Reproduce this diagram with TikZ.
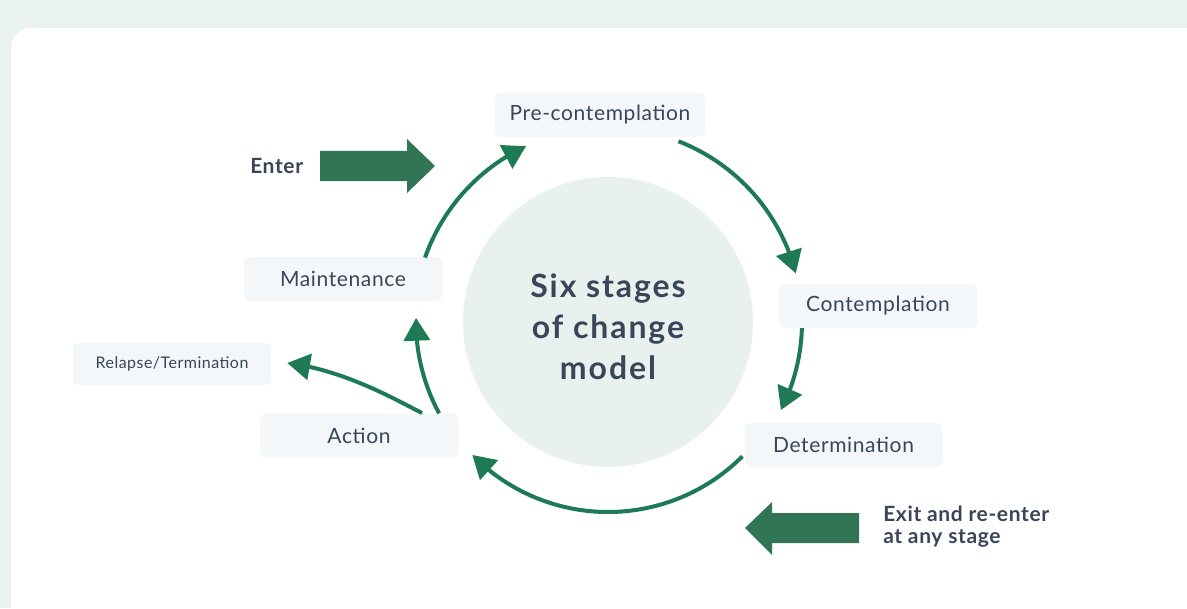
\documentclass[tikz,border=0pt]{standalone}
\usepackage{fontspec}
\setmainfont{Lato}[LetterSpace=3]
\newfontfamily\titlefont{Lato}[LetterSpace=6]
\usetikzlibrary{arrows.meta,bending,calc}

\definecolor{pagebg}{HTML}{E9F2EF}
\definecolor{boxfill}{HTML}{F3F7FA}
\definecolor{hubfill}{HTML}{E9F1EE}
\definecolor{ink}{HTML}{394659}
\definecolor{flowgreen}{HTML}{1E7A55}
\definecolor{blockgreen}{HTML}{327556}

\tikzset{
  stage/.style={fill=boxfill, rounded corners=4pt, minimum width=148.5pt,
    minimum height=33pt, inner sep=0pt, text=ink,
    font=\fontsize{15.75pt}{18pt}\selectfont},
  smallstage/.style={stage, font=\fontsize{12pt}{14pt}\selectfont, minimum height=31.5pt},
  flow/.style={draw=flowgreen, line width=3pt,
    -{Triangle[length=17pt,width=19.5pt]}},
  blockarrow/.style={fill=blockgreen},
  caption/.style={text=ink, inner sep=0pt,
    font=\fontsize{15.75pt}{16.5pt}\selectfont\bfseries}
}

\begin{document}
\begin{tikzpicture}[x=0.75pt,y=0.75pt]
  % page and card
  \useasboundingbox (0,0) rectangle (1187,608);
  \fill[pagebg] (0,0) rectangle (1187,608);
  \fill[white, rounded corners=15pt] (11,-20) rectangle (1220,580);

  % central hub
  \node[circle, fill=hubfill, minimum size=217.5pt, inner sep=0pt] (hub) at (608,286) {};
  \node[text=ink, align=center, inner sep=0pt,
        font=\fontsize{24pt}{30.75pt}\titlefont\bfseries] (title) at (608,281)
        {Six stages\\of change\\model};

  % stages
  \node[stage, minimum width=157.5pt] (pre)   at (600,493)   {Pre-contemplation};
  \node[stage] (cont)  at (878,302)   {Contemplation};
  \node[stage] (det)   at (843.5,163) {Determination};
  \node[stage] (act)   at (359,172.5) {Action};
  \node[stage] (maint) at (343,329)   {Maintenance};
  \node[smallstage] (relapse) at (172,244) {Relapse/Termination};

  % points on the ring around the hub
  \coordinate (c1) at ($(hub)+(160.6:145.5pt)$);
  \coordinate (c2) at ($(hub)+(68.7:145.5pt)$);
  \coordinate (c3) at ($(hub)+(-1.8:145.5pt)$);
  \coordinate (c4) at ($(hub)+(-45:142.5pt)$);
  \coordinate (c5) at ($(hub)+(208.4:144pt)$);
  \coordinate (c6) at (422,195);
  \coordinate (r6) at ($(relapse.east)+(16,1)$);

  % cycle arrows
  \draw[flow] (c1) arc[start angle=160.6, end angle=115,   radius=145.5pt];
  \draw[flow] (c2) arc[start angle=68.7,  end angle=14.5,  radius=145.5pt];
  \draw[flow] (c3) arc[start angle=-1.8,  end angle=-27,   radius=145.5pt];
  \draw[flow] (c4) arc[start angle=-45,   end angle=-135.6,radius=142.5pt];
  \draw[flow] (c5) arc[start angle=208.4, end angle=178.8, radius=144pt];
  \draw[flow] (c6) .. controls (398,207) and (345,238) .. (r6);

  % entry arrow
  \fill[blockarrow] (320,457) -- (407,457) -- (407,469) -- (435,442)
    -- (407,415) -- (407,427) -- (320,427) -- cycle;
  \node[caption, anchor=west] (enter) at (250,442) {Enter};

  % exit arrow
  \fill[blockarrow] (859,95) -- (772,95) -- (772,106) -- (745,80)
    -- (772,53) -- (772,65) -- (859,65) -- cycle;
  \node[caption, anchor=west, align=left] (exit) at (883,81)
    {Exit and re-enter\\at any stage};
\end{tikzpicture}
\end{document}
